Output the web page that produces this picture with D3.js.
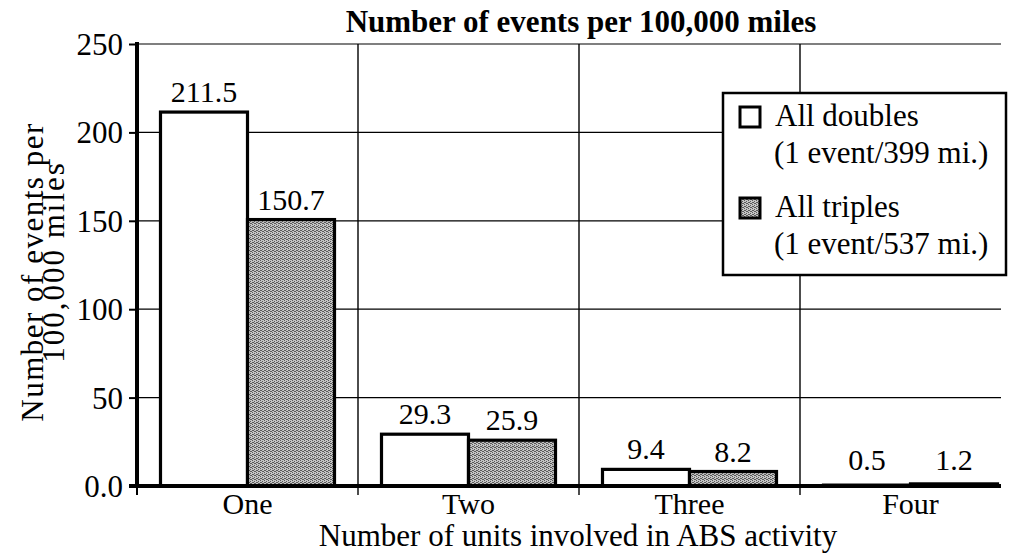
<!DOCTYPE html>
<html><head><meta charset="utf-8">
<script src="https://cdn.jsdelivr.net/npm/d3@7"></script>
<style>
html,body{margin:0;padding:0;background:#fff;}
</style></head>
<body><svg id="chart" width="1011" height="554"></svg>
<script>
const categories = ["One", "Two", "Three", "Four"];
const seriesNames = ["All doubles", "All triples"];
const seriesNotes = ["(1 event/399 mi.)", "(1 event/537 mi.)"];
const doubles = [211.5, 29.3, 9.4, 0.5];
const triples = [150.7, 25.9, 8.2, 1.2];
const valueLabels = [["211.5","29.3","9.4","0.5"],["150.7","25.9","8.2","1.2"]];
const yTicks = [0, 50, 100, 150, 200, 250];
const yTickLabels = ["0.0", "50", "100", "150", "200", "250"];
const title = "Number of events per 100,000 miles";
const yTitle = ["Number of events per", "100,000 miles"];
const xTitle = "Number of units involved in ABS activity";

(function(){
const FONT = "Liberation Serif, Times New Roman, serif";
const svg = d3.select("#chart").attr("font-family", FONT);
const pLeft = 137, pRight = 1021, pTop = 44, pBottom = 486, clipRight = 1001;

const defs = svg.append("defs");
const pat = defs.append("pattern").attr("id","dither").attr("width",4).attr("height",4).attr("patternUnits","userSpaceOnUse");
pat.append("rect").attr("width",4).attr("height",4).attr("fill","#c4c4c4");
[[0,0],[2,1],[1,2],[3,3],[2,3],[0,2]].forEach(([a,b])=>pat.append("rect").attr("x",a).attr("y",b).attr("width",1).attr("height",1).attr("fill","#5a5a5a"));

const y = d3.scaleLinear().domain([0,250]).range([pBottom, pTop]);
const x0 = d3.scaleBand().domain(categories).range([pLeft, pRight]).padding(0);
const x1 = d3.scaleBand().domain(seriesNames).range([0, x0.bandwidth()]).paddingInner(0).paddingOuter(0.27);

const g = svg.append("g");
g.selectAll(".hg").data(yTicks.filter(d=>d>0)).join("line")
  .attr("x1", pLeft).attr("x2", clipRight).attr("y1", d=>y(d)).attr("y2", d=>y(d))
  .attr("stroke","#000").attr("stroke-width",1.2);
g.selectAll(".vg").data(categories.slice(1)).join("line")
  .attr("x1", d=>x0(d)).attr("x2", d=>x0(d)).attr("y1", pTop).attr("y2", pBottom+9)
  .attr("stroke","#000").attr("stroke-width",1.4);

const series = [doubles, triples];
series.forEach((vals, si) => {
  g.selectAll(".b"+si).data(categories).join("rect")
    .attr("x", (c)=>x0(c)+x1(seriesNames[si]))
    .attr("width", x1.bandwidth())
    .attr("y", (c,i)=>y(vals[i]))
    .attr("height", (c,i)=>pBottom - y(vals[i]))
    .attr("fill", si===0 ? "#fff" : "url(#dither)")
    .attr("stroke","#000").attr("stroke-width",3.2);
  g.selectAll(".l"+si).data(categories).join("text")
    .attr("x", (c)=>x0(c)+x1(seriesNames[si])+x1.bandwidth()/2)
    .attr("y", (c,i)=>Math.min(y(vals[i]) - 10, 470))
    .attr("text-anchor","middle").style("font-family",FONT).attr("font-size",30)
    .text((c,i)=>valueLabels[si][i]);
});

const yAxis = d3.axisLeft(y).tickValues(yTicks).tickFormat((d,i)=>yTickLabels[i]).tickSize(8).tickPadding(6);
const ya = svg.append("g").attr("transform",`translate(${pLeft},0)`).call(yAxis);
ya.select(".domain").remove();
ya.selectAll(".tick line").attr("stroke","#000").attr("stroke-width",2);
ya.selectAll(".tick text").style("font-family",FONT).attr("font-size",31).attr("dy","0.34em");
svg.append("line").attr("x1",pLeft).attr("x2",pLeft).attr("y1",pTop-2).attr("y2",pBottom+2).attr("stroke","#000").attr("stroke-width",4);

const xAxis = d3.axisBottom(x0).tickSize(0).tickPadding(7);
const xa = svg.append("g").attr("transform",`translate(0,${pBottom})`).call(xAxis);
xa.select(".domain").remove();
xa.selectAll(".tick text").style("font-family",FONT).attr("font-size",30).attr("dy","0.71em");
svg.append("line").attr("x1",pLeft-8).attr("x2",clipRight).attr("y1",pBottom).attr("y2",pBottom).attr("stroke","#000").attr("stroke-width",4);
svg.append("line").attr("x1",pLeft).attr("x2",pLeft).attr("y1",pBottom).attr("y2",pBottom+9).attr("stroke","#000").attr("stroke-width",2);

svg.append("text").attr("x",581).attr("y",32).attr("text-anchor","middle").style("font-family",FONT).attr("font-size",31).attr("font-weight","bold").text(title);
svg.append("text").attr("x",578).attr("y",546).attr("text-anchor","middle").style("font-family",FONT).attr("font-size",31).text(xTitle);
const yt = svg.append("text").attr("transform","translate(0,268) rotate(-90)").attr("text-anchor","middle").style("font-family",FONT).attr("font-size",31);
yt.append("tspan").attr("x",-4).attr("y",43).attr("letter-spacing",1.5).text(yTitle[0]);
yt.append("tspan").attr("x",6).attr("y",64).attr("letter-spacing",2).text(yTitle[1]);

const lg = svg.append("g");
lg.append("rect").attr("x",723).attr("y",93).attr("width",283).attr("height",182).attr("fill","#fff").attr("stroke","#000").attr("stroke-width",2.5);
seriesNames.forEach((n,i)=>{
  const yy = 106 + i*91;
  lg.append("rect").attr("x",740).attr("y",yy+1).attr("width",20).attr("height",20)
    .attr("fill", i===0?"#fff":"url(#dither)").attr("stroke","#000").attr("stroke-width",3);
  lg.append("text").attr("x",775).attr("y",yy+20).style("font-family",FONT).attr("font-size",31).text(n);
  lg.append("text").attr("x",774).attr("y",yy+57).style("font-family",FONT).attr("font-size",31).text(seriesNotes[i]);
});
})();
</script></body></html>
